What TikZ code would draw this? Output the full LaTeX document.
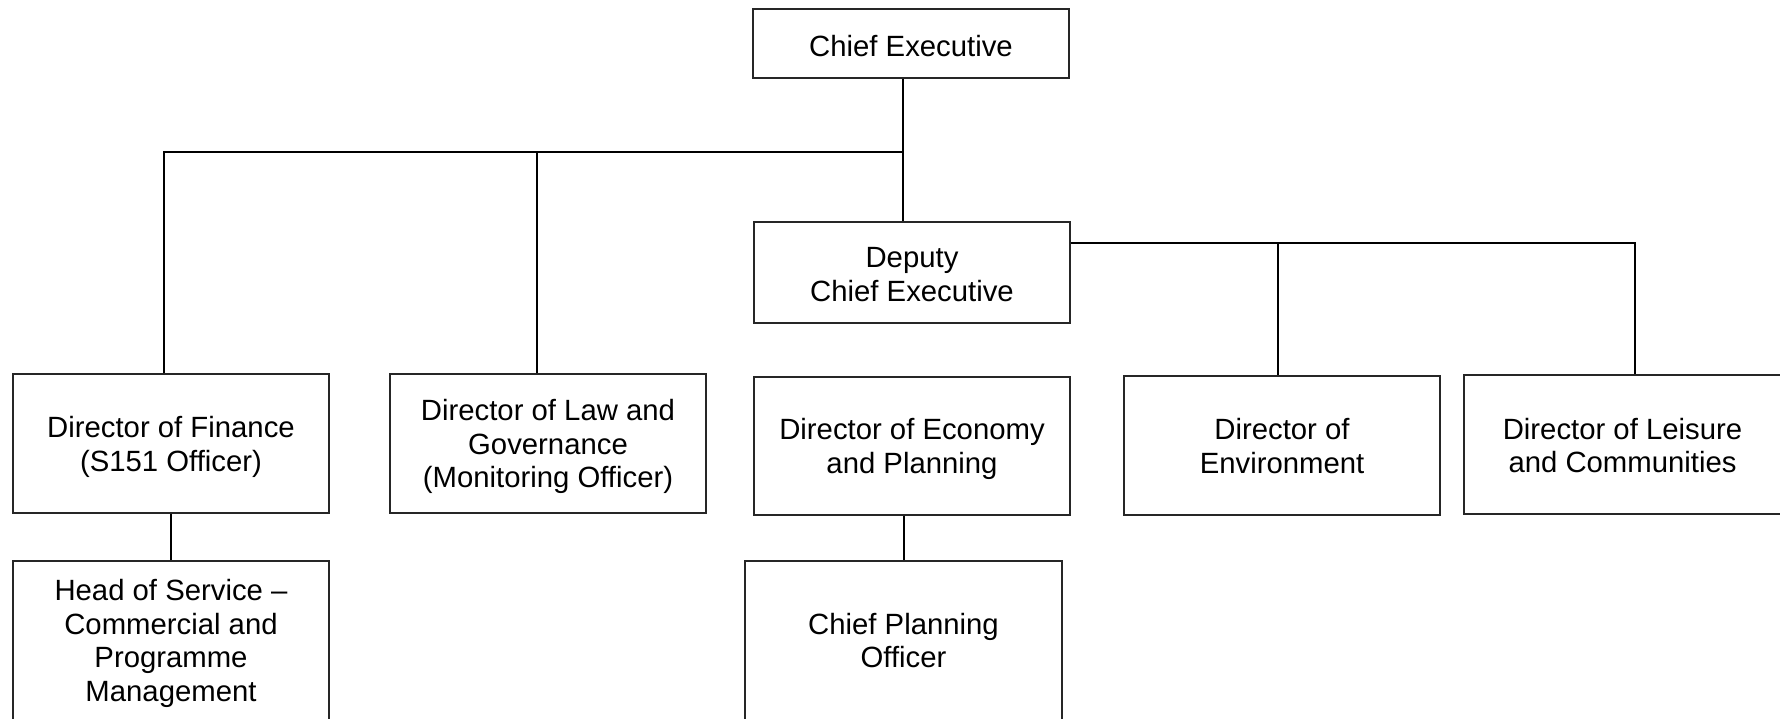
\documentclass[tikz,border=0pt]{standalone}
\usepackage{fontspec}
\setmainfont{Liberation Sans}
\begin{document}
\begin{tikzpicture}[x=1pt,y=-1pt,
  box/.style={draw=black!85,line width=1.3pt,inner sep=0pt,minimum width=316pt},
  txt/.style={inner sep=0pt,align=center,font=\fontsize{29.3}{33.5}\selectfont},
  conn/.style={draw=black,line width=1.7pt}]
\useasboundingbox (0,0) rectangle (1780,718);
\clip (0,0) rectangle (1780,718);
% boxes
\node[box,minimum height=69pt]  (ce)   at (911,43.5)   {};
\node[box,minimum height=101pt] (dep)  at (912,272.5)  {};
\node[box,minimum height=139pt] (fin)  at (171,443.5)  {};
\node[box,minimum height=139pt] (law)  at (548,443.5)  {};
\node[box,minimum height=138pt] (eco)  at (912,446)    {};
\node[box,minimum height=139pt] (env)  at (1282,445.5) {};
\node[box,minimum height=139pt,minimum width=317pt] (lei) at (1622.5,444.5) {};
\node[box,minimum height=159pt] (head) at (171,640.5)  {};
\node[box,minimum height=159pt,minimum width=317pt] (cpo) at (903.5,640.5) {};
% texts
\node[txt] (ceT)   at ([yshift=-3pt]ce.center)    {Chief Executive};
\node[txt] (depT)  at ([yshift=-2pt]dep.center)   {Deputy\\Chief Executive};
\node[txt] (finT)  at ([yshift=-3.5pt]fin.center) {Director of Finance\\(S151 Officer)};
\node[txt] (lawT)  at ([yshift=-3pt]law.center)   {Director of Law and\\Governance\\(Monitoring Officer)};
\node[txt] (ecoT)  at ([yshift=-3pt]eco.center)   {Director of Economy\\and Planning};
\node[txt] (envT)  at ([yshift=-0.5pt]env.center) {Director of\\Environment};
\node[txt] (leiT)  at ([yshift=-1pt]lei.center)   {Director of Leisure\\and Communities};
\node[txt] (headT) at ([yshift=-3pt]head.center)  {Head of Service --\\Commercial and\\Programme\\Management};
\node[txt] (cpoT)  at (cpo.center)                {Chief Planning\\Officer};
% junction coordinates
\coordinate (t1) at (903,152);
\coordinate (b1) at (164,152);
\coordinate (b2) at (537,152);
\coordinate (r0) at (1070,243);
\coordinate (r1) at (1278,243);
\coordinate (r2) at (1635,243);
\coordinate (c1) at (904,530);
% connectors
\draw[conn] (ce.south -| t1) -- (dep.north -| t1);
\draw[conn] (fin.north -| b1) -- (b1) -- (t1);
\draw[conn] (law.north -| b2) -- (b2);
\draw[conn] (dep.east |- r0) -- (r2) -- (lei.north -| r2);
\draw[conn] (r1) -- (env.north -| r1);
\draw[conn] (fin.south) -- (head.north);
\draw[conn] (eco.south -| c1) -- (cpo.north -| c1);
\end{tikzpicture}
\end{document}
